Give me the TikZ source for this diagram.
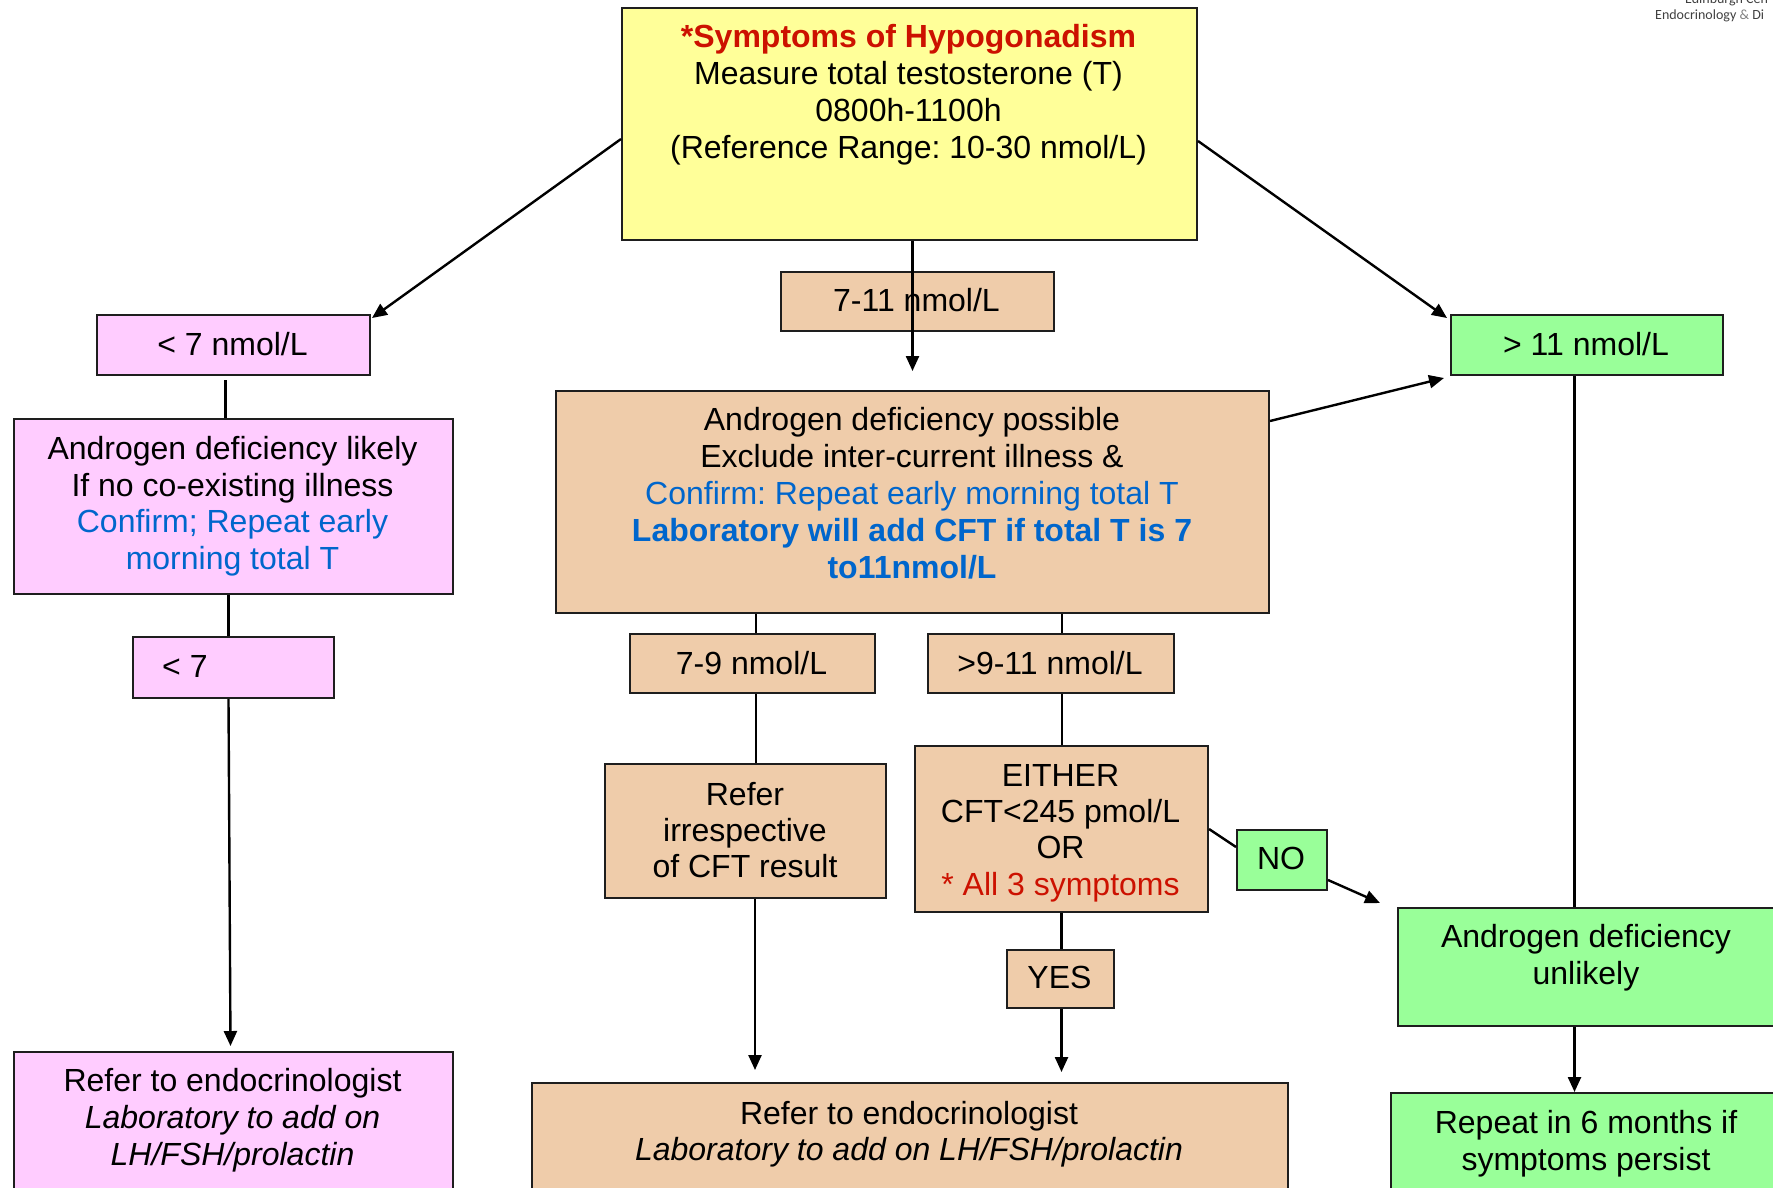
\documentclass[tikz,border=0pt]{standalone}
\usepackage{fontspec}
\setmainfont{Liberation Sans}
\newfontfamily\logofont{Carlito}
\usetikzlibrary{arrows.meta}
\frenchspacing
\definecolor{yelfill}{RGB}{255,255,153}
\definecolor{tanfill}{RGB}{239,204,170}
\definecolor{pnkfill}{RGB}{255,204,255}
\definecolor{grnfill}{RGB}{153,255,153}
\definecolor{redtext}{RGB}{204,17,0}
\definecolor{bluetext}{RGB}{0,102,204}
\definecolor{boxline}{RGB}{30,30,30}
\definecolor{logogray}{RGB}{64,64,64}
\tikzset{
  box/.style={draw=boxline, line width=2pt, anchor=north west, inner sep=0pt},
  ybox/.style={box, fill=yelfill},
  tbox/.style={box, fill=tanfill},
  pbox/.style={box, fill=pnkfill},
  gbox/.style={box, fill=grnfill},
  txt/.style={anchor=base, inner sep=0pt, font=\fontsize{32}{37}\selectfont},
  conn/.style={draw=black, line width=2.4pt},
  arr/.style={conn, -{Triangle[length=15pt,width=13pt]}},
}
\begin{document}
\begin{tikzpicture}[x=1pt,y=-1pt]
\clip (0,0) rectangle (1773,1187);
\fill[white] (0,0) rectangle (1773,1187);

% ---------- boxes ----------
\node[ybox, minimum width=575pt, minimum height=232pt] (top) at (621,7) {};
\node[tbox, minimum width=273pt, minimum height=59pt] (b711) at (780,271) {};
\node[pbox, minimum width=273pt, minimum height=60pt] (lt) at (96,314) {};
\node[gbox, minimum width=272pt, minimum height=60pt] (gt) at (1450,314) {};
\node[tbox, minimum width=713pt, minimum height=222pt] (mid) at (555,390) {};
\node[pbox, minimum width=439pt, minimum height=175pt] (pk1) at (13,418) {};
\node[pbox, minimum width=201pt, minimum height=61pt] (lt7) at (132,636) {};
\node[pbox, minimum width=439pt, minimum height=160pt] (pk2) at (13,1051) {};
\node[tbox, minimum width=245pt, minimum height=59pt] (b79) at (629,633) {};
\node[tbox, minimum width=246pt, minimum height=59pt] (b911) at (927,633) {};
\node[tbox, minimum width=281pt, minimum height=134pt] (refer) at (604,763) {};
\node[tbox, minimum width=293pt, minimum height=166pt] (either) at (914,745) {};
\node[tbox, minimum width=107pt, minimum height=58pt] (yes) at (1006,949) {};
\node[tbox, minimum width=756pt, minimum height=140pt] (bmid) at (531,1082) {};
\node[gbox, minimum width=90pt, minimum height=60pt] (no) at (1236,829) {};
\node[gbox, minimum width=380pt, minimum height=118pt] (unl) at (1397,907) {};
\node[gbox, minimum width=392pt, minimum height=130pt] (rep) at (1390,1092) {};

% ---------- texts ----------
\node[txt, text=redtext, font=\fontsize{32}{37}\selectfont\bfseries] (top1) at (908.5,47) {*Symptoms of Hypogonadism};
\node[txt] (top2) at (908.5,84) {Measure total testosterone (T)};
\node[txt] (top3) at (908.5,121) {0800h-1100h};
\node[txt] (top4) at (908.5,158) {(Reference Range: 10-30 nmol/L)};

\node[txt] (b711t) at (916.5,311) {7-11 nmol/L};
\node[txt] (ltt) at (232.5,355) {< 7 nmol/L};
\node[txt] (gtt) at (1586,355) {> 11 nmol/L};

\node[txt] (mid1) at (912,430) {Androgen deficiency possible};
\node[txt] (mid2) at (912,467) {Exclude inter-current illness \&};
\node[txt, text=bluetext] (mid3) at (912,504) {Confirm: Repeat early morning total T};
\node[txt, text=bluetext, font=\fontsize{32}{37}\selectfont\bfseries] (mid4) at (912,541) {Laboratory will add CFT if total T is 7};
\node[txt, text=bluetext, font=\fontsize{32}{37}\selectfont\bfseries] (mid5) at (912,578) {to11nmol/L};

\node[txt] (pk1a) at (232.5,459) {Androgen deficiency likely};
\node[txt] (pk1b) at (232.5,496) {If no co-existing illness};
\node[txt, text=bluetext] (pk1c) at (232.5,532) {Confirm; Repeat early};
\node[txt, text=bluetext] (pk1d) at (232.5,569) {morning total T};

\node[txt, anchor=base west] (lt7t) at (162,677) {< 7};

\node[txt] (pk2a) at (232.5,1091) {Refer to endocrinologist};
\node[txt, font=\fontsize{32}{37}\selectfont\itshape] (pk2b) at (232.5,1128) {Laboratory to add on};
\node[txt, font=\fontsize{32}{37}\selectfont\itshape] (pk2c) at (232.5,1165) {LH/FSH/prolactin};

\node[txt] (b79t) at (751.5,674) {7-9 nmol/L};
\node[txt] (b911t) at (1050,674) {>9-11 nmol/L};

\node[txt] (ref1) at (745,805) {Refer};
\node[txt] (ref2) at (745,841) {irrespective};
\node[txt] (ref3) at (745,877) {of CFT result};

\node[txt] (ei1) at (1060.5,786) {EITHER};
\node[txt] (ei2) at (1060.5,822) {CFT<245 pmol/L};
\node[txt] (ei3) at (1060.5,858) {OR};
\node[txt, text=redtext] (ei4) at (1060.5,895) {* All 3 symptoms};

\node[txt] (yest) at (1059.5,988) {YES};
\node[txt] (not) at (1281,869) {NO};

\node[txt] (bm1) at (909,1124) {Refer to endocrinologist};
\node[txt, font=\fontsize{32}{37}\selectfont\itshape] (bm2) at (909,1160) {Laboratory to add on LH/FSH/prolactin};

\node[txt] (unl1) at (1586,947) {Androgen deficiency};
\node[txt] (unl2) at (1586,984) {unlikely};

\node[txt] (rep1) at (1586,1133) {Repeat in 6 months if};
\node[txt] (rep2) at (1586,1170) {symptoms persist};

\node[anchor=base west, inner sep=0pt, text=logogray, font=\logofont\fontsize{14}{16}\selectfont] (logo1) at (1685,3) {Edinburgh Cen};
\node[anchor=base west, inner sep=0pt, text=logogray, font=\logofont\fontsize{14}{16}\selectfont] (logo2) at (1655,19) {Endocrinology {\color{gray}\&} Di};

% ---------- connectors ----------
\coordinate (ltend) at ([xshift=1pt,yshift=-4pt]lt.north east);
\coordinate (gtend) at ([xshift=-3pt,yshift=-4pt]gt.north west);
\coordinate (gtend2) at ([xshift=-6pt,yshift=-2pt]gt.south west);
\coordinate (noend) at (1380,903);

\draw[arr] ([yshift=-15pt]top.west) -- (ltend);
\draw[arr] ([yshift=-17pt]top.east) -- (gtend);
\draw[arr] (mid.north |- top.south) -- ([yshift=19pt]mid.north);
\draw[arr] ([yshift=-31pt]mid.north east) -- (gtend2);

\draw[conn] ([xshift=-8pt,yshift=-4pt]lt.south) -- ([xshift=-8pt]pk1.north);
\draw[conn] ([xshift=-5pt]pk1.south) -- ([xshift=-5pt]lt7.north);
\draw[arr] ([xshift=-5pt]lt7.south) -- ([xshift=-3pt,yshift=5pt]pk2.north);

\draw[conn] ([xshift=3.5pt]b79.north |- mid.south) -- ([xshift=3.5pt]b79.north);
\draw[conn] ([xshift=3.5pt]b79.south) -- ([xshift=3.5pt]b79.south |- refer.north);
\draw[arr, shorten >=12pt] ([xshift=9.5pt]refer.south) -- ([xshift=9.5pt]refer.south |- bmid.north);

\draw[conn] ([xshift=11pt]b911.north |- mid.south) -- ([xshift=11pt]b911.north);
\draw[conn] ([xshift=11pt]b911.south) -- ([xshift=11pt]b911.south |- either.north);
\draw[conn] (either.south) -- (either.south |- yes.north);
\draw[arr, shorten >=10pt] (yes.south -| either.south) -- (either.south |- bmid.north);

\draw[conn] (either.east) -- ([yshift=13pt]no.west);
\draw[arr] ([yshift=-20pt]no.east) -- (noend);

\draw[conn] ([xshift=-12.5pt]gt.south) -- ([xshift=-12.5pt]gt.south |- unl.north);
\draw[arr] ([xshift=-12.5pt]gt.south |- unl.south) -- ([xshift=-12.5pt]gt.south |- rep.north);
\end{tikzpicture}
\end{document}
